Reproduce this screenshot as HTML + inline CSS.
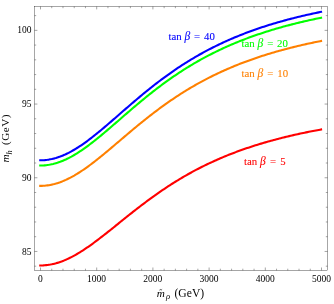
<!DOCTYPE html><html><head><meta charset="utf-8"><style>html,body{margin:0;padding:0;background:#fff}svg{display:block;will-change:transform}text{font-family:"Liberation Serif",serif}</style></head><body>
<svg width="334" height="304" viewBox="0 0 334 304">
<rect width="334" height="304" fill="#fff"/>
<path d="M39.20,265.45 L40.50,265.45 L41.91,265.43 L43.31,265.38 L44.72,265.29 L46.12,265.16 L47.52,265.00 L48.93,264.80 L50.34,264.57 L51.74,264.30 L53.14,263.99 L54.55,263.65 L55.95,263.28 L57.36,262.87 L58.77,262.43 L60.17,261.96 L61.58,261.46 L62.98,260.92 L64.39,260.35 L65.79,259.76 L67.19,259.13 L68.60,258.48 L70.00,257.80 L71.41,257.09 L72.81,256.35 L74.22,255.59 L75.62,254.81 L77.03,254.00 L78.44,253.16 L79.84,252.31 L81.25,251.44 L82.65,250.54 L84.06,249.62 L85.46,248.69 L86.87,247.74 L88.27,246.77 L89.67,245.79 L91.08,244.79 L92.48,243.78 L93.89,242.75 L95.30,241.71 L96.70,240.66 L98.10,239.60 L99.51,238.53 L100.91,237.45 L102.32,236.36 L103.72,235.27 L105.13,234.17 L106.53,233.06 L107.94,231.94 L109.34,230.83 L110.75,229.70 L112.16,228.58 L113.56,227.45 L114.97,226.32 L116.37,225.19 L117.78,224.06 L119.18,222.93 L120.58,221.79 L121.99,220.66 L123.39,219.53 L124.80,218.40 L126.20,217.28 L127.61,216.16 L129.01,215.04 L130.42,213.92 L131.82,212.81 L133.23,211.70 L134.63,210.60 L136.04,209.50 L137.44,208.41 L138.85,207.32 L140.25,206.24 L141.66,205.17 L143.06,204.10 L144.47,203.04 L145.88,201.99 L147.28,200.94 L148.69,199.90 L150.09,198.87 L151.50,197.85 L152.90,196.83 L154.31,195.83 L155.71,194.83 L157.12,193.84 L158.52,192.85 L159.93,191.88 L161.33,190.91 L162.74,189.96 L164.14,189.01 L165.55,188.07 L166.95,187.14 L168.36,186.22 L169.76,185.31 L171.16,184.40 L172.57,183.51 L173.97,182.63 L175.38,181.75 L176.78,180.88 L178.19,180.03 L179.59,179.18 L181.00,178.34 L182.41,177.51 L183.81,176.69 L185.22,175.87 L186.62,175.07 L188.03,174.27 L189.43,173.49 L190.84,172.71 L192.24,171.94 L193.65,171.18 L195.05,170.43 L196.46,169.69 L197.86,168.96 L199.26,168.23 L200.67,167.52 L202.07,166.81 L203.48,166.11 L204.88,165.41 L206.29,164.73 L207.69,164.06 L209.10,163.39 L210.50,162.73 L211.91,162.08 L213.31,161.43 L214.72,160.80 L216.12,160.17 L217.53,159.55 L218.94,158.93 L220.34,158.33 L221.75,157.73 L223.15,157.14 L224.56,156.55 L225.96,155.97 L227.37,155.40 L228.77,154.84 L230.18,154.28 L231.58,153.73 L232.99,153.19 L234.39,152.66 L235.79,152.13 L237.20,151.60 L238.60,151.09 L240.01,150.57 L241.41,150.07 L242.82,149.57 L244.22,149.08 L245.63,148.59 L247.03,148.11 L248.44,147.64 L249.84,147.17 L251.25,146.71 L252.66,146.25 L254.06,145.80 L255.47,145.35 L256.87,144.91 L258.27,144.47 L259.68,144.04 L261.09,143.62 L262.49,143.20 L263.89,142.78 L265.30,142.37 L266.71,141.97 L268.11,141.57 L269.51,141.17 L270.92,140.78 L272.32,140.40 L273.73,140.02 L275.13,139.64 L276.54,139.27 L277.94,138.90 L279.35,138.54 L280.75,138.18 L282.16,137.82 L283.56,137.47 L284.97,137.13 L286.38,136.78 L287.78,136.45 L289.19,136.11 L290.59,135.78 L292.00,135.45 L293.40,135.13 L294.81,134.81 L296.21,134.50 L297.62,134.19 L299.02,133.88 L300.43,133.57 L301.83,133.27 L303.24,132.97 L304.64,132.68 L306.05,132.39 L307.45,132.10 L308.86,131.82 L310.26,131.54 L311.67,131.26 L313.07,130.99 L314.48,130.71 L315.88,130.45 L317.29,130.18 L318.69,129.92 L320.10,129.66 L321.50,129.40 L322.10,129.29" fill="none" stroke="#ff0000" stroke-width="2.1" stroke-linecap="butt" stroke-linejoin="round"/>
<path d="M39.20,185.86 L40.50,185.86 L41.91,185.84 L43.31,185.78 L44.72,185.69 L46.12,185.55 L47.52,185.38 L48.93,185.18 L50.34,184.93 L51.74,184.65 L53.14,184.33 L54.55,183.98 L55.95,183.59 L57.36,183.16 L58.77,182.70 L60.17,182.21 L61.58,181.68 L62.98,181.12 L64.39,180.53 L65.79,179.91 L67.19,179.25 L68.60,178.57 L70.00,177.86 L71.41,177.11 L72.81,176.34 L74.22,175.55 L75.62,174.72 L77.03,173.88 L78.44,173.01 L79.84,172.11 L81.25,171.19 L82.65,170.25 L84.06,169.29 L85.46,168.32 L86.87,167.32 L88.27,166.30 L89.67,165.27 L91.08,164.22 L92.48,163.16 L93.89,162.08 L95.30,160.99 L96.70,159.88 L98.10,158.77 L99.51,157.64 L100.91,156.50 L102.32,155.36 L103.72,154.21 L105.13,153.04 L106.53,151.88 L107.94,150.70 L109.34,149.52 L110.75,148.34 L112.16,147.15 L113.56,145.96 L114.97,144.77 L116.37,143.57 L117.78,142.38 L119.18,141.18 L120.58,139.98 L121.99,138.79 L123.39,137.59 L124.80,136.40 L126.20,135.20 L127.61,134.01 L129.01,132.83 L130.42,131.65 L131.82,130.47 L133.23,129.29 L134.63,128.12 L136.04,126.96 L137.44,125.80 L138.85,124.65 L140.25,123.50 L141.66,122.36 L143.06,121.22 L144.47,120.09 L145.88,118.97 L147.28,117.86 L148.69,116.75 L150.09,115.66 L151.50,114.57 L152.90,113.48 L154.31,112.41 L155.71,111.34 L157.12,110.29 L158.52,109.24 L159.93,108.20 L161.33,107.17 L162.74,106.15 L164.14,105.14 L165.55,104.13 L166.95,103.14 L168.36,102.16 L169.76,101.18 L171.16,100.21 L172.57,99.26 L173.97,98.31 L175.38,97.37 L176.78,96.45 L178.19,95.53 L179.59,94.62 L181.00,93.72 L182.41,92.83 L183.81,91.95 L185.22,91.08 L186.62,90.21 L188.03,89.36 L189.43,88.52 L190.84,87.69 L192.24,86.86 L193.65,86.04 L195.05,85.24 L196.46,84.44 L197.86,83.65 L199.26,82.87 L200.67,82.10 L202.07,81.34 L203.48,80.59 L204.88,79.84 L206.29,79.11 L207.69,78.38 L209.10,77.66 L210.50,76.95 L211.91,76.25 L213.31,75.56 L214.72,74.87 L216.12,74.19 L217.53,73.52 L218.94,72.86 L220.34,72.21 L221.75,71.56 L223.15,70.93 L224.56,70.30 L225.96,69.67 L227.37,69.06 L228.77,68.45 L230.18,67.85 L231.58,67.26 L232.99,66.67 L234.39,66.09 L235.79,65.52 L237.20,64.95 L238.60,64.39 L240.01,63.84 L241.41,63.30 L242.82,62.76 L244.22,62.23 L245.63,61.70 L247.03,61.18 L248.44,60.67 L249.84,60.16 L251.25,59.66 L252.66,59.17 L254.06,58.68 L255.47,58.19 L256.87,57.72 L258.27,57.24 L259.68,56.78 L261.09,56.32 L262.49,55.86 L263.89,55.41 L265.30,54.97 L266.71,54.53 L268.11,54.10 L269.51,53.67 L270.92,53.25 L272.32,52.83 L273.73,52.42 L275.13,52.01 L276.54,51.60 L277.94,51.20 L279.35,50.81 L280.75,50.42 L282.16,50.04 L283.56,49.66 L284.97,49.28 L286.38,48.91 L287.78,48.54 L289.19,48.18 L290.59,47.82 L292.00,47.46 L293.40,47.11 L294.81,46.77 L296.21,46.43 L297.62,46.09 L299.02,45.75 L300.43,45.42 L301.83,45.10 L303.24,44.77 L304.64,44.45 L306.05,44.14 L307.45,43.82 L308.86,43.52 L310.26,43.21 L311.67,42.91 L313.07,42.61 L314.48,42.32 L315.88,42.02 L317.29,41.74 L318.69,41.45 L320.10,41.17 L321.50,40.89 L322.10,40.77" fill="none" stroke="#ff8000" stroke-width="2.1" stroke-linecap="butt" stroke-linejoin="round"/>
<path d="M39.20,165.52 L40.50,165.52 L41.91,165.50 L43.31,165.44 L44.72,165.34 L46.12,165.21 L47.52,165.03 L48.93,164.82 L50.34,164.57 L51.74,164.28 L53.14,163.96 L54.55,163.60 L55.95,163.20 L57.36,162.77 L58.77,162.30 L60.17,161.80 L61.58,161.26 L62.98,160.69 L64.39,160.08 L65.79,159.45 L67.19,158.78 L68.60,158.08 L70.00,157.35 L71.41,156.60 L72.81,155.81 L74.22,155.00 L75.62,154.16 L77.03,153.30 L78.44,152.41 L79.84,151.49 L81.25,150.56 L82.65,149.60 L84.06,148.62 L85.46,147.62 L86.87,146.61 L88.27,145.57 L89.67,144.52 L91.08,143.45 L92.48,142.36 L93.89,141.26 L95.30,140.15 L96.70,139.02 L98.10,137.88 L99.51,136.74 L100.91,135.58 L102.32,134.41 L103.72,133.23 L105.13,132.05 L106.53,130.86 L107.94,129.66 L109.34,128.45 L110.75,127.25 L112.16,126.04 L113.56,124.82 L114.97,123.60 L116.37,122.39 L117.78,121.17 L119.18,119.94 L120.58,118.72 L121.99,117.50 L123.39,116.28 L124.80,115.07 L126.20,113.85 L127.61,112.64 L129.01,111.43 L130.42,110.22 L131.82,109.02 L133.23,107.82 L134.63,106.63 L136.04,105.44 L137.44,104.26 L138.85,103.08 L140.25,101.91 L141.66,100.75 L143.06,99.59 L144.47,98.44 L145.88,97.30 L147.28,96.16 L148.69,95.03 L150.09,93.91 L151.50,92.80 L152.90,91.70 L154.31,90.60 L155.71,89.52 L157.12,88.44 L158.52,87.37 L159.93,86.31 L161.33,85.26 L162.74,84.22 L164.14,83.19 L165.55,82.16 L166.95,81.15 L168.36,80.15 L169.76,79.15 L171.16,78.17 L172.57,77.19 L173.97,76.23 L175.38,75.27 L176.78,74.32 L178.19,73.39 L179.59,72.46 L181.00,71.54 L182.41,70.64 L183.81,69.74 L185.22,68.85 L186.62,67.97 L188.03,67.10 L189.43,66.24 L190.84,65.39 L192.24,64.55 L193.65,63.72 L195.05,62.90 L196.46,62.08 L197.86,61.28 L199.26,60.48 L200.67,59.70 L202.07,58.92 L203.48,58.15 L204.88,57.39 L206.29,56.64 L207.69,55.90 L209.10,55.17 L210.50,54.45 L211.91,53.73 L213.31,53.02 L214.72,52.32 L216.12,51.63 L217.53,50.95 L218.94,50.28 L220.34,49.61 L221.75,48.95 L223.15,48.30 L224.56,47.66 L225.96,47.02 L227.37,46.40 L228.77,45.78 L230.18,45.16 L231.58,44.56 L232.99,43.96 L234.39,43.37 L235.79,42.79 L237.20,42.21 L238.60,41.64 L240.01,41.08 L241.41,40.52 L242.82,39.97 L244.22,39.43 L245.63,38.89 L247.03,38.36 L248.44,37.84 L249.84,37.32 L251.25,36.81 L252.66,36.31 L254.06,35.81 L255.47,35.32 L256.87,34.83 L258.27,34.35 L259.68,33.88 L261.09,33.41 L262.49,32.94 L263.89,32.48 L265.30,32.03 L266.71,31.58 L268.11,31.14 L269.51,30.71 L270.92,30.27 L272.32,29.85 L273.73,29.43 L275.13,29.01 L276.54,28.60 L277.94,28.19 L279.35,27.79 L280.75,27.39 L282.16,27.00 L283.56,26.61 L284.97,26.23 L286.38,25.85 L287.78,25.48 L289.19,25.11 L290.59,24.74 L292.00,24.38 L293.40,24.02 L294.81,23.67 L296.21,23.32 L297.62,22.97 L299.02,22.63 L300.43,22.30 L301.83,21.96 L303.24,21.63 L304.64,21.31 L306.05,20.98 L307.45,20.67 L308.86,20.35 L310.26,20.04 L311.67,19.73 L313.07,19.43 L314.48,19.13 L315.88,18.83 L317.29,18.54 L318.69,18.25 L320.10,17.96 L321.50,17.67 L322.10,17.55" fill="none" stroke="#00ff00" stroke-width="2.1" stroke-linecap="butt" stroke-linejoin="round"/>
<path d="M39.20,160.28 L40.50,160.28 L41.91,160.26 L43.31,160.21 L44.72,160.11 L46.12,159.97 L47.52,159.80 L48.93,159.59 L50.34,159.33 L51.74,159.05 L53.14,158.72 L54.55,158.36 L55.95,157.96 L57.36,157.52 L58.77,157.05 L60.17,156.55 L61.58,156.01 L62.98,155.43 L64.39,154.83 L65.79,154.19 L67.19,153.52 L68.60,152.82 L70.00,152.08 L71.41,151.32 L72.81,150.54 L74.22,149.72 L75.62,148.88 L77.03,148.01 L78.44,147.12 L79.84,146.20 L81.25,145.26 L82.65,144.30 L84.06,143.31 L85.46,142.31 L86.87,141.29 L88.27,140.25 L89.67,139.19 L91.08,138.11 L92.48,137.02 L93.89,135.92 L95.30,134.80 L96.70,133.67 L98.10,132.53 L99.51,131.37 L100.91,130.21 L102.32,129.03 L103.72,127.85 L105.13,126.66 L106.53,125.47 L107.94,124.26 L109.34,123.06 L110.75,121.84 L112.16,120.63 L113.56,119.41 L114.97,118.18 L116.37,116.96 L117.78,115.73 L119.18,114.51 L120.58,113.28 L121.99,112.05 L123.39,110.83 L124.80,109.61 L126.20,108.39 L127.61,107.17 L129.01,105.95 L130.42,104.74 L131.82,103.53 L133.23,102.33 L134.63,101.13 L136.04,99.94 L137.44,98.75 L138.85,97.57 L140.25,96.39 L141.66,95.22 L143.06,94.06 L144.47,92.91 L145.88,91.76 L147.28,90.62 L148.69,89.48 L150.09,88.36 L151.50,87.24 L152.90,86.13 L154.31,85.03 L155.71,83.94 L157.12,82.86 L158.52,81.79 L159.93,80.72 L161.33,79.67 L162.74,78.62 L164.14,77.58 L165.55,76.56 L166.95,75.54 L168.36,74.53 L169.76,73.53 L171.16,72.54 L172.57,71.56 L173.97,70.59 L175.38,69.63 L176.78,68.68 L178.19,67.74 L179.59,66.81 L181.00,65.89 L182.41,64.98 L183.81,64.07 L185.22,63.18 L186.62,62.30 L188.03,61.43 L189.43,60.56 L190.84,59.71 L192.24,58.86 L193.65,58.03 L195.05,57.20 L196.46,56.38 L197.86,55.58 L199.26,54.78 L200.67,53.99 L202.07,53.21 L203.48,52.44 L204.88,51.68 L206.29,50.92 L207.69,50.18 L209.10,49.44 L210.50,48.71 L211.91,48.00 L213.31,47.28 L214.72,46.58 L216.12,45.89 L217.53,45.20 L218.94,44.53 L220.34,43.86 L221.75,43.20 L223.15,42.54 L224.56,41.90 L225.96,41.26 L227.37,40.63 L228.77,40.01 L230.18,39.39 L231.58,38.78 L232.99,38.18 L234.39,37.59 L235.79,37.00 L237.20,36.42 L238.60,35.85 L240.01,35.29 L241.41,34.73 L242.82,34.18 L244.22,33.63 L245.63,33.09 L247.03,32.56 L248.44,32.04 L249.84,31.52 L251.25,31.00 L252.66,30.50 L254.06,30.00 L255.47,29.50 L256.87,29.01 L258.27,28.53 L259.68,28.05 L261.09,27.58 L262.49,27.11 L263.89,26.65 L265.30,26.20 L266.71,25.75 L268.11,25.31 L269.51,24.87 L270.92,24.43 L272.32,24.01 L273.73,23.58 L275.13,23.16 L276.54,22.75 L277.94,22.34 L279.35,21.94 L280.75,21.54 L282.16,21.15 L283.56,20.76 L284.97,20.37 L286.38,19.99 L287.78,19.61 L289.19,19.24 L290.59,18.88 L292.00,18.51 L293.40,18.15 L294.81,17.80 L296.21,17.45 L297.62,17.10 L299.02,16.76 L300.43,16.42 L301.83,16.09 L303.24,15.75 L304.64,15.43 L306.05,15.10 L307.45,14.78 L308.86,14.47 L310.26,14.16 L311.67,13.85 L313.07,13.54 L314.48,13.24 L315.88,12.94 L317.29,12.64 L318.69,12.35 L320.10,12.06 L321.50,11.78 L322.10,11.66" fill="none" stroke="#0000ff" stroke-width="2.1" stroke-linecap="butt" stroke-linejoin="round"/>
<g stroke="#000" stroke-width="0.36" fill="none">
<rect x="34.5" y="6.5" width="293.0" height="263.9" stroke-width="0.35"/>
<path d="M40.50,270.40v-2.90M40.50,6.50v2.90M51.74,270.40v-1.70M51.74,6.50v1.70M62.98,270.40v-1.70M62.98,6.50v1.70M74.22,270.40v-1.70M74.22,6.50v1.70M85.46,270.40v-1.70M85.46,6.50v1.70M96.70,270.40v-2.90M96.70,6.50v2.90M107.94,270.40v-1.70M107.94,6.50v1.70M119.18,270.40v-1.70M119.18,6.50v1.70M130.42,270.40v-1.70M130.42,6.50v1.70M141.66,270.40v-1.70M141.66,6.50v1.70M152.90,270.40v-2.90M152.90,6.50v2.90M164.14,270.40v-1.70M164.14,6.50v1.70M175.38,270.40v-1.70M175.38,6.50v1.70M186.62,270.40v-1.70M186.62,6.50v1.70M197.86,270.40v-1.70M197.86,6.50v1.70M209.10,270.40v-2.90M209.10,6.50v2.90M220.34,270.40v-1.70M220.34,6.50v1.70M231.58,270.40v-1.70M231.58,6.50v1.70M242.82,270.40v-1.70M242.82,6.50v1.70M254.06,270.40v-1.70M254.06,6.50v1.70M265.30,270.40v-2.90M265.30,6.50v2.90M276.54,270.40v-1.70M276.54,6.50v1.70M287.78,270.40v-1.70M287.78,6.50v1.70M299.02,270.40v-1.70M299.02,6.50v1.70M310.26,270.40v-1.70M310.26,6.50v1.70M321.50,270.40v-2.90M321.50,6.50v2.90M34.50,266.19h1.70M327.50,266.19h-1.70M34.50,251.45h2.90M327.50,251.45h-2.90M34.50,236.71h1.70M327.50,236.71h-1.70M34.50,221.97h1.70M327.50,221.97h-1.70M34.50,207.23h1.70M327.50,207.23h-1.70M34.50,192.49h1.70M327.50,192.49h-1.70M34.50,177.75h2.90M327.50,177.75h-2.90M34.50,163.01h1.70M327.50,163.01h-1.70M34.50,148.27h1.70M327.50,148.27h-1.70M34.50,133.53h1.70M327.50,133.53h-1.70M34.50,118.79h1.70M327.50,118.79h-1.70M34.50,104.05h2.90M327.50,104.05h-2.90M34.50,89.31h1.70M327.50,89.31h-1.70M34.50,74.57h1.70M327.50,74.57h-1.70M34.50,59.83h1.70M327.50,59.83h-1.70M34.50,45.09h1.70M327.50,45.09h-1.70M34.50,30.35h2.90M327.50,30.35h-2.90M34.50,15.61h1.70M327.50,15.61h-1.70"/>
</g>
<g font-size="9.5" fill="#000">
<text x="40.40" y="281.7" text-anchor="middle">0</text>
<text x="96.60" y="281.7" text-anchor="middle">1000</text>
<text x="152.80" y="281.7" text-anchor="middle">2000</text>
<text x="209.00" y="281.7" text-anchor="middle">3000</text>
<text x="265.20" y="281.7" text-anchor="middle">4000</text>
<text x="321.40" y="281.7" text-anchor="middle">5000</text>
<text x="31.6" y="254.55" text-anchor="end">85</text>
<text x="31.6" y="180.85" text-anchor="end">90</text>
<text x="31.6" y="107.15" text-anchor="end">95</text>
<text x="31.6" y="33.45" text-anchor="end">100</text>
</g>
<g font-size="11.4" fill="#000">
<text x="156.8" y="296.8" font-size="11.2" font-style="italic">m</text>
<text x="165.9" y="299.3" font-style="italic" font-size="8.6">ρ</text>
<text x="174.5" y="296.7" font-size="11.6">(GeV)</text>
<path d="M159.5,290.1 q0.65,-0.9 1.3,-0.4 t1.3,-0.4" fill="none" stroke="#000" stroke-width="0.7"/>
<g transform="translate(9.4,162.4) rotate(-90)">
<text x="0" y="0" font-size="11.2" font-style="italic">m</text>
<text x="8.0" y="2.2" font-style="italic" font-size="8.4">h</text>
<text x="17.4" y="0" font-size="11.2" letter-spacing="0.5">(GeV)</text>
</g>
</g>
<g font-size="10.8" fill="#0000ff" stroke="#0000ff" stroke-width="0.08"><text x="168.4" y="40.10">tan</text><text x="184.4" y="40.10" font-style="italic" font-size="11.5" stroke-width="0.1">β</text><text x="194.1" y="40.10">=</text><text x="204.0" y="40.10">40</text></g>
<g font-size="10.8" fill="#00ff00" stroke="#00ff00" stroke-width="0.08"><text x="241.5" y="46.90">tan</text><text x="257.4" y="46.90" font-style="italic" font-size="11.5" stroke-width="0.1">β</text><text x="267.3" y="46.90">=</text><text x="277.0" y="46.90">20</text></g>
<g font-size="10.8" fill="#ff8000" stroke="#ff8000" stroke-width="0.08"><text x="241.5" y="76.60">tan</text><text x="257.4" y="76.60" font-style="italic" font-size="11.5" stroke-width="0.1">β</text><text x="267.3" y="76.60">=</text><text x="277.3" y="76.60">10</text></g>
<g font-size="10.8" fill="#ff0000" stroke="#ff0000" stroke-width="0.08"><text x="244.0" y="164.60">tan</text><text x="259.9" y="164.60" font-style="italic" font-size="11.5" stroke-width="0.1">β</text><text x="269.9" y="164.60">=</text><text x="280.2" y="164.60">5</text></g>
</svg></body></html>
